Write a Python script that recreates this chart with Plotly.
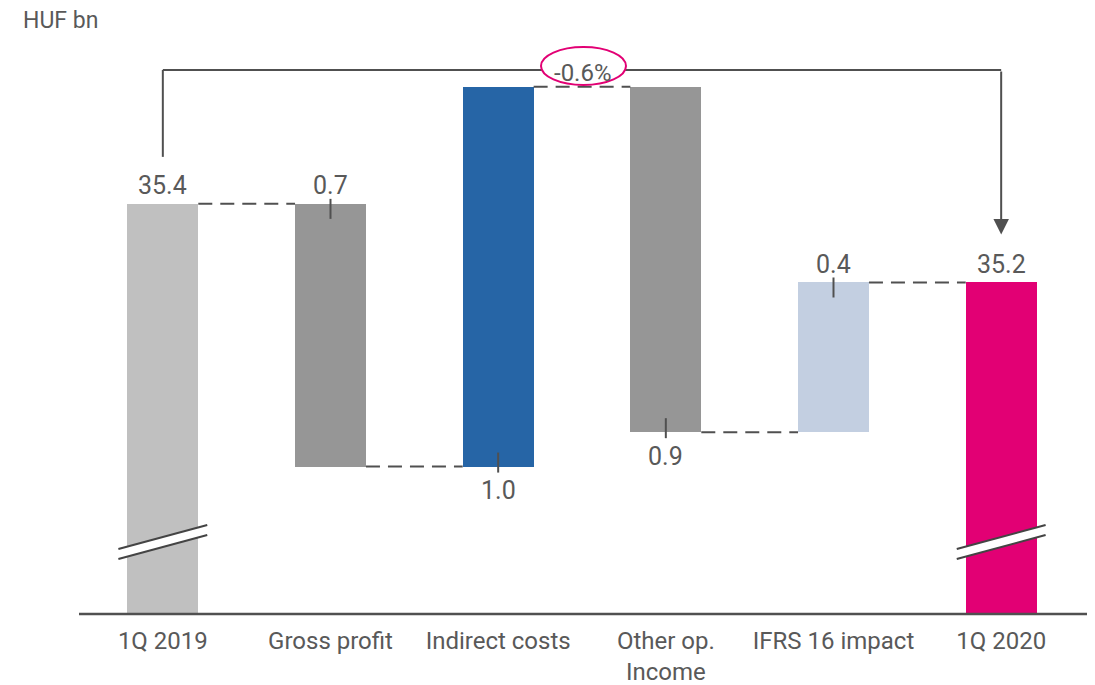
"""Waterfall chart: 1Q 2019 -> 1Q 2020 bridge (HUF bn)."""

import plotly.graph_objects as go

# ---- data ----------------------------------------------------------------
categories = ["1Q 2019", "Gross profit", "Indirect costs", "Other op.<br>Income",
              "IFRS 16 impact", "1Q 2020"]
values = [35.40, -0.695, 1.005, -0.914, 0.396, 35.192]   # first/last are totals
value_labels = ["35.4", "0.7", "1.0", "0.9", "0.4", "35.2"]
label_side = ["top", "top", "bottom", "bottom", "top", "top"]
change_label = "-0.6%"
unit_label = "HUF bn"

colors = ["#c0c0c0", "#969696", "#2665a6", "#969696", "#c3cfe1", "#e20074"]

FONT = "Roboto, Liberation Sans, sans-serif"
TEXT_COLOR = "#595959"
LINE_COLOR = "#505050"
FS = 25

# ---- geometry (axis is truncated, pixel helpers for decorations) ---------
# the page body adds an 8px offset, so the figure is a bit smaller
PAGE_OFF = 8
W, H = 1095 - PAGE_OFF, 685 - PAGE_OFF
M_L, M_R, M_T, M_B = 79 - PAGE_OFF, 10, 40 - PAGE_OFF, 71
PLOT_H = H - M_T - M_B
PLOT_W = W - M_L - M_R
PLOT_TOP = 40            # plot top on screen
PLOT_LEFT = 79           # plot left on screen
BASE_Y = PLOT_TOP + PLOT_H
PX_PER_UNIT = 378.0
Y_MIN = 34.315
Y_MAX = Y_MIN + PLOT_H / PX_PER_UNIT
PX_X = PLOT_W / len(categories)
BAR_W = 0.423


def py(p):
    """screen pixel row -> data y"""
    return Y_MAX - (p - PLOT_TOP) / PX_PER_UNIT


def px(p):
    """screen pixel column -> data x"""
    return (p - PLOT_LEFT) / PX_X - 0.5


def dy(p):
    return p / PX_PER_UNIT


# ---- build bars ----------------------------------------------------------
n = len(categories)
xs = list(range(n))
bases, heights, tops, bottoms, levels = [], [], [], [], []
running = values[0]
for i, v in enumerate(values):
    if i == 0 or i == n - 1:
        bases.append(0)
        heights.append(v)
        tops.append(v)
        bottoms.append(Y_MIN)
        running = v
    else:
        bases.append(running)
        heights.append(v)
        tops.append(max(running, running + v))
        bottoms.append(min(running, running + v))
        running += v
    levels.append(running)

fig = go.Figure()

fig.add_trace(
    go.Bar(
        x=xs,
        y=heights,
        base=bases,
        width=BAR_W,
        marker=dict(color=colors, line=dict(width=0)),
        showlegend=False,
        hoverinfo="skip",
    )
)

# dashed connectors between neighbouring bars
cx, cy = [], []
for i in range(n - 1):
    cx += [i + BAR_W / 2, i + 1 - BAR_W / 2, None]
    cy += [levels[i], levels[i], None]
fig.add_trace(
    go.Scatter(
        x=cx, y=cy, mode="lines",
        line=dict(color=LINE_COLOR, width=2, dash="14px,8px"),
        showlegend=False, hoverinfo="skip",
    )
)

shapes = []
annotations = []

# value labels + small ticks on the change bars
for i in range(n):
    side = label_side[i]
    lvl = tops[i] if side == "top" else bottoms[i]
    annotations.append(dict(
        x=i, y=lvl, xref="x", yref="y", text=value_labels[i], showarrow=False,
        yanchor="middle", yshift=18 if side == "top" else -24,
        font=dict(size=FS, color=TEXT_COLOR, family=FONT),
    ))
    if 0 < i < n - 1:
        if side == "top":
            y0, y1 = lvl + dy(5), lvl - dy(15)
        else:
            y0, y1 = lvl - dy(6), lvl + dy(14)
        shapes.append(dict(type="line", xref="x", yref="y", x0=i, x1=i, y0=y0, y1=y1,
                           line=dict(color=LINE_COLOR, width=2)))

# axis break marks on the total bars
for i in (0, n - 1):
    xl, xr = i - 0.265, i + 0.265
    shapes.append(dict(
        type="path", xref="x", yref="y",
        path=f"M{xl},{py(549)} L{xr},{py(525)} L{xr},{py(535)} L{xl},{py(559)} Z",
        fillcolor="white", line=dict(width=0),
    ))
    for a, b in ((549, 525), (559, 535)):
        shapes.append(dict(type="line", xref="x", yref="y", x0=xl, x1=xr,
                           y0=py(a), y1=py(b), line=dict(color="#444444", width=2)))

# baseline
shapes.append(dict(type="line", xref="paper", yref="paper", x0=0, x1=1.0075, y0=0, y1=0,
                   line=dict(color=LINE_COLOR, width=2.5)))

# bracket from first to last total
bracket_y = py(70)
shapes.append(dict(type="line", xref="x", yref="y", x0=0, x1=0,
                   y0=tops[0] + dy(47), y1=bracket_y, line=dict(color=LINE_COLOR, width=2)))
shapes.append(dict(type="line", xref="x", yref="y", x0=0, x1=n - 1,
                   y0=bracket_y, y1=bracket_y, line=dict(color=LINE_COLOR, width=2)))
annotations.append(dict(
    x=n - 1, y=tops[-1] + dy(48), ax=n - 1, ay=bracket_y, xref="x", yref="y",
    axref="x", ayref="y", text="", showarrow=True, arrowhead=2, arrowsize=1.55,
    arrowwidth=2, arrowcolor=LINE_COLOR, standoff=0,
))

# change bubble
shapes.append(dict(type="circle", xref="x", yref="y", x0=px(541), x1=px(626),
                   y0=py(85), y1=py(47), fillcolor="white",
                   line=dict(color="#e20074", width=2)))
annotations.append(dict(
    x=px(583), y=py(73), xref="x", yref="y", text=change_label, showarrow=False,
    font=dict(size=24, color=TEXT_COLOR, family=FONT),
))

# unit label
annotations.append(dict(
    x=(21 - PLOT_LEFT) / PLOT_W, y=(BASE_Y - 20) / PLOT_H, xref="paper", yref="paper",
    text=unit_label, showarrow=False, xanchor="left", yanchor="middle",
    font=dict(size=FS - 2, color=TEXT_COLOR, family=FONT),
))

fig.update_layout(
    width=W,
    height=H,
    autosize=False,
    margin=dict(l=M_L, r=M_R, t=M_T, b=M_B, pad=0, autoexpand=False),
    paper_bgcolor="white",
    plot_bgcolor="white",
    bargap=0,
    shapes=shapes,
    annotations=annotations,
    font=dict(family=FONT, size=FS, color=TEXT_COLOR),
    xaxis=dict(
        range=[-0.5, n - 0.5],
        tickvals=xs,
        ticktext=categories,
        showgrid=False,
        zeroline=False,
        showline=False,
        ticks="",
        automargin=False,
        ticklabelstandoff=10,
        tickfont=dict(size=FS - 1, color=TEXT_COLOR, family=FONT),
        fixedrange=True,
    ),
    yaxis=dict(
        range=[Y_MIN, Y_MAX],
        visible=False,
        automargin=False,
        fixedrange=True,
    ),
)

fig.write_html("out.html")
